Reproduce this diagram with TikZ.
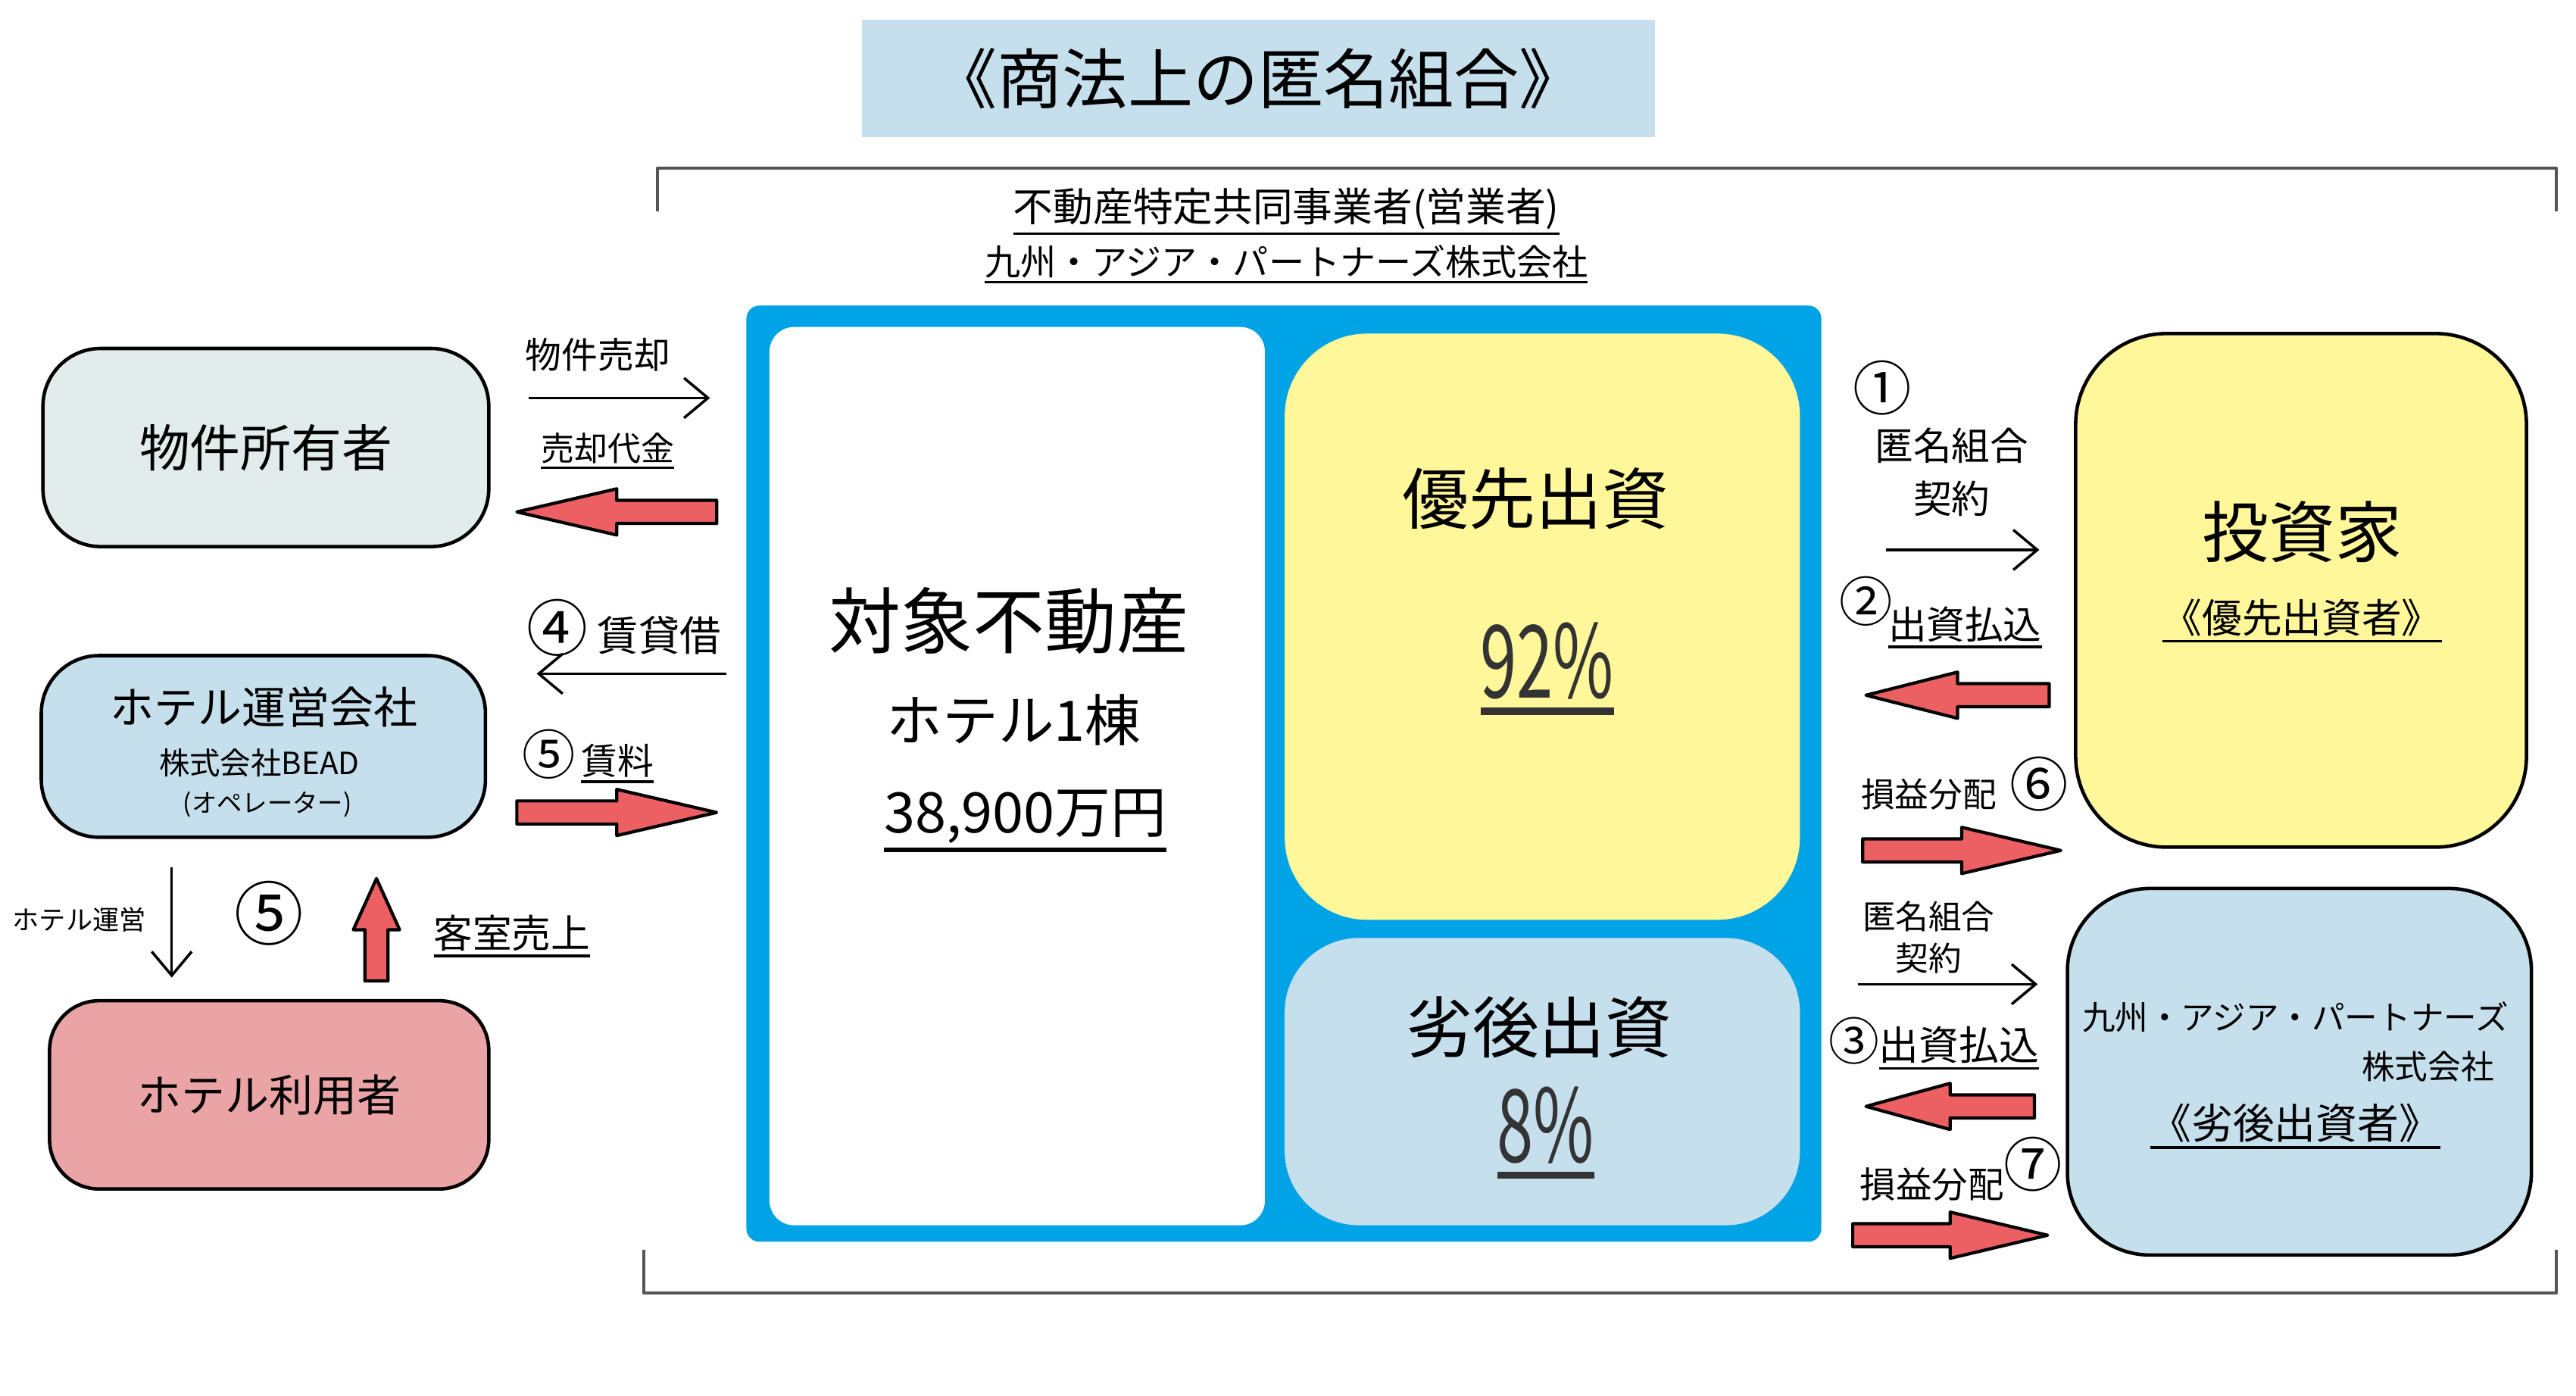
\documentclass[tikz,border=0pt]{standalone}
\usepackage{fontspec}
\setmainfont{Noto Sans CJK JP}
\newfontfamily\narrowfont[FakeStretch=0.65]{Noto Sans CJK JP}
\usetikzlibrary{arrows.meta}
\definecolor{paleblue}{HTML}{C6DFEC}
\definecolor{palegray}{HTML}{E2ECEC}
\definecolor{palepink}{HTML}{EBA4A6}
\definecolor{paleyellow}{HTML}{FFF799}
\definecolor{fundblue}{HTML}{00A3E6}
\definecolor{arrowred}{HTML}{EC5F63}
\definecolor{bracketgray}{HTML}{555555}
\definecolor{pctgray}{HTML}{333333}
\newcommand\px{0.0218cm}
\newcommand\fsz[1]{\fontsize{#1}{#1}\selectfont}
\newcommand\ulbox[1]{\setbox0=\hbox{#1}\leavevmode\rlap{\vrule height\dimexpr-\dp0-0.08em\relax depth\dimexpr\dp0+0.15em\relax width\wd0}\box0}
\begin{document}
\begin{tikzpicture}[x=\px,y=-\px,line join=round,>={Straight Barb[length=9pt,width=15pt]}]
	\tikzset{
		box/.style={draw,line width=1.3pt,rounded corners=#1,inner sep=0pt},
		flow/.style={->,line width=1pt},
		bracket/.style={bracketgray,line width=1.2pt},
		pics/redarrow/.style={code={
			\draw[fill=arrowred,line width=1.2pt] (0,-7)--(#1/2,-7)--(#1/2,-14)--(#1,0)--(#1/2,14)--(#1/2,7)--(0,7)--cycle;}}
	}
	\useasboundingbox (0,0) rectangle (1560,845);
	% title and bracket
	\node[fill=paleblue,minimum width=480*\px,minimum height=71*\px,font=\fsz{24.5}] (title) at (762,47.5) {《商法上の匿名組合》};
	\draw[bracket] (398,128)--(398,102)--(1548,102)--(1548,128);
	\draw[bracket] (390,757)--(390,783)--(1548,783)--(1548,757);
	\node[font=\fsz{15}] (bizop) at (779,128) {\ulbox{不動産特定共同事業者(営業者)}};
	\node[font=\fsz{13.4}] (bizname) at (779,160) {\ulbox{九州・アジア・パートナーズ株式会社}};
	% fund
	\node[fill=fundblue,rounded corners=8*\px,minimum width=651*\px,minimum height=567*\px] (fund) at (777.5,468.5) {};
	\node[fill=white,rounded corners=15*\px,minimum width=300*\px,minimum height=544*\px] (property) at (616,470) {};
	\node[fill=paleyellow,rounded corners=50*\px,minimum width=312*\px,minimum height=355*\px] (senior) at (934,379.5) {};
	\node[fill=paleblue,rounded corners=45*\px,minimum width=312*\px,minimum height=174*\px] (junior) at (934,655) {};
	\node[font=\fsz{27}] at (611,376) {対象不動産};
	\node[font=\fsz{21}] at (614,436) {ホテル1棟};
	\node[font=\fsz{21}] at (621,497) {\ulbox{38,900万円}};
	\node[font=\fsz{25}] at (930,302) {優先出資};
	\node[font=\narrowfont\fsz{38},text=pctgray] at (937,405) {\ulbox{92\%}};
	\node[font=\fsz{25}] at (932,622) {劣後出資};
	\node[font=\narrowfont\fsz{38},text=pctgray] at (936,686) {\ulbox{8\%}};
	% left side
	\node[box=35*\px,fill=palegray,minimum width=270*\px,minimum height=120*\px,font=\fsz{19}] (owner) at (161,271) {物件所有者};
	\node[box=35*\px,fill=paleblue,minimum width=269*\px,minimum height=110*\px] (operator) at (159.5,452) {};
	\node[font=\fsz{16.5}] at (160,428) {ホテル運営会社};
	\node[font=\fsz{11.5}] at (157,462) {株式会社BEAD};
	\node[font=\fsz{9.5}] at (162,487) {(オペレーター)};
	\node[box=30*\px,fill=palepink,minimum width=266*\px,minimum height=114*\px,font=\fsz{16.5}] (guest) at (163,663) {ホテル利用者};
	\node[font=\fsz{13.6}] at (362,215) {物件売却};
	\draw[flow] (320,241)--(430,241);
	\node[font=\fsz{12.5}] at (368,273) {\ulbox{売却代金}};
	\pic[rotate=180] at (434,310) {redarrow=121};
	\node[font=\fsz{15.5}] at (378,380) {{\fsz{23}④}\ 賃貸借};
	\draw[flow] (440,408)--(325,408);
	\node[font=\fsz{13.6}] at (356,458) {{\fsz{20}⑤}\,\ulbox{賃料}};
	\pic at (313,492) {redarrow=121};
	\draw[flow] (104,525)--(104,592);
	\node[font=\fsz{10}] at (48,557) {ホテル運営};
	\node[font=\fsz{26}] at (163,553) {⑤};
	\pic[rotate=90] at (228,594) {redarrow=62};
	\node[font=\fsz{14.7}] at (310,567) {\ulbox{客室売上}};
	% right side
	\node[box=55*\px,fill=paleyellow,minimum width=273*\px,minimum height=311*\px] (investor) at (1393.5,357.5) {};
	\node[font=\fsz{25}] at (1394,322) {投資家};
	\node[font=\fsz{15}] at (1394,376) {\ulbox{《優先出資者》}};
	\node[box=50*\px,fill=paleblue,minimum width=281*\px,minimum height=222*\px] (kap) at (1392.5,649) {};
	\node[font=\fsz{12.4}] at (1390,616) {九州・アジア・パートナーズ};
	\node[font=\fsz{12.4},anchor=east] at (1516,646) {株式会社};
	\node[font=\fsz{15.6}] at (1390,682) {\ulbox{《劣後出資者》}};
	\node[font=\fsz{22}] at (1140,235) {①};
	\node[font=\fsz{14.4}] at (1182,270) {匿名組合};
	\node[font=\fsz{14.4}] at (1182,302) {契約};
	\draw[flow] (1142,333)--(1235,333);
	\node[font=\fsz{20}] at (1130,364) {②};
	\node[font=\fsz{14.4}] at (1190,380) {\ulbox{出資払込}};
	\pic[rotate=180] at (1241,421) {redarrow=111};
	\node[font=\fsz{12.7}] at (1168,481) {損益分配};
	\node[font=\fsz{22}] at (1235,475) {⑥};
	\pic at (1128,515) {redarrow=120};
	\node[font=\fsz{12.4}] at (1168,555) {匿名組合};
	\node[font=\fsz{12.4}] at (1168,580) {契約};
	\draw[flow] (1125,596)--(1234,596);
	\node[font=\fsz{15}] at (1171,632) {{\fsz{19}③}\ulbox{出資払込}};
	\pic[rotate=180] at (1232,670) {redarrow=102};
	\node[font=\fsz{13.5}] at (1170,717) {損益分配};
	\node[font=\fsz{22}] at (1231,705) {⑦};
	\pic at (1122,748) {redarrow=118};
\end{tikzpicture}
\end{document}
